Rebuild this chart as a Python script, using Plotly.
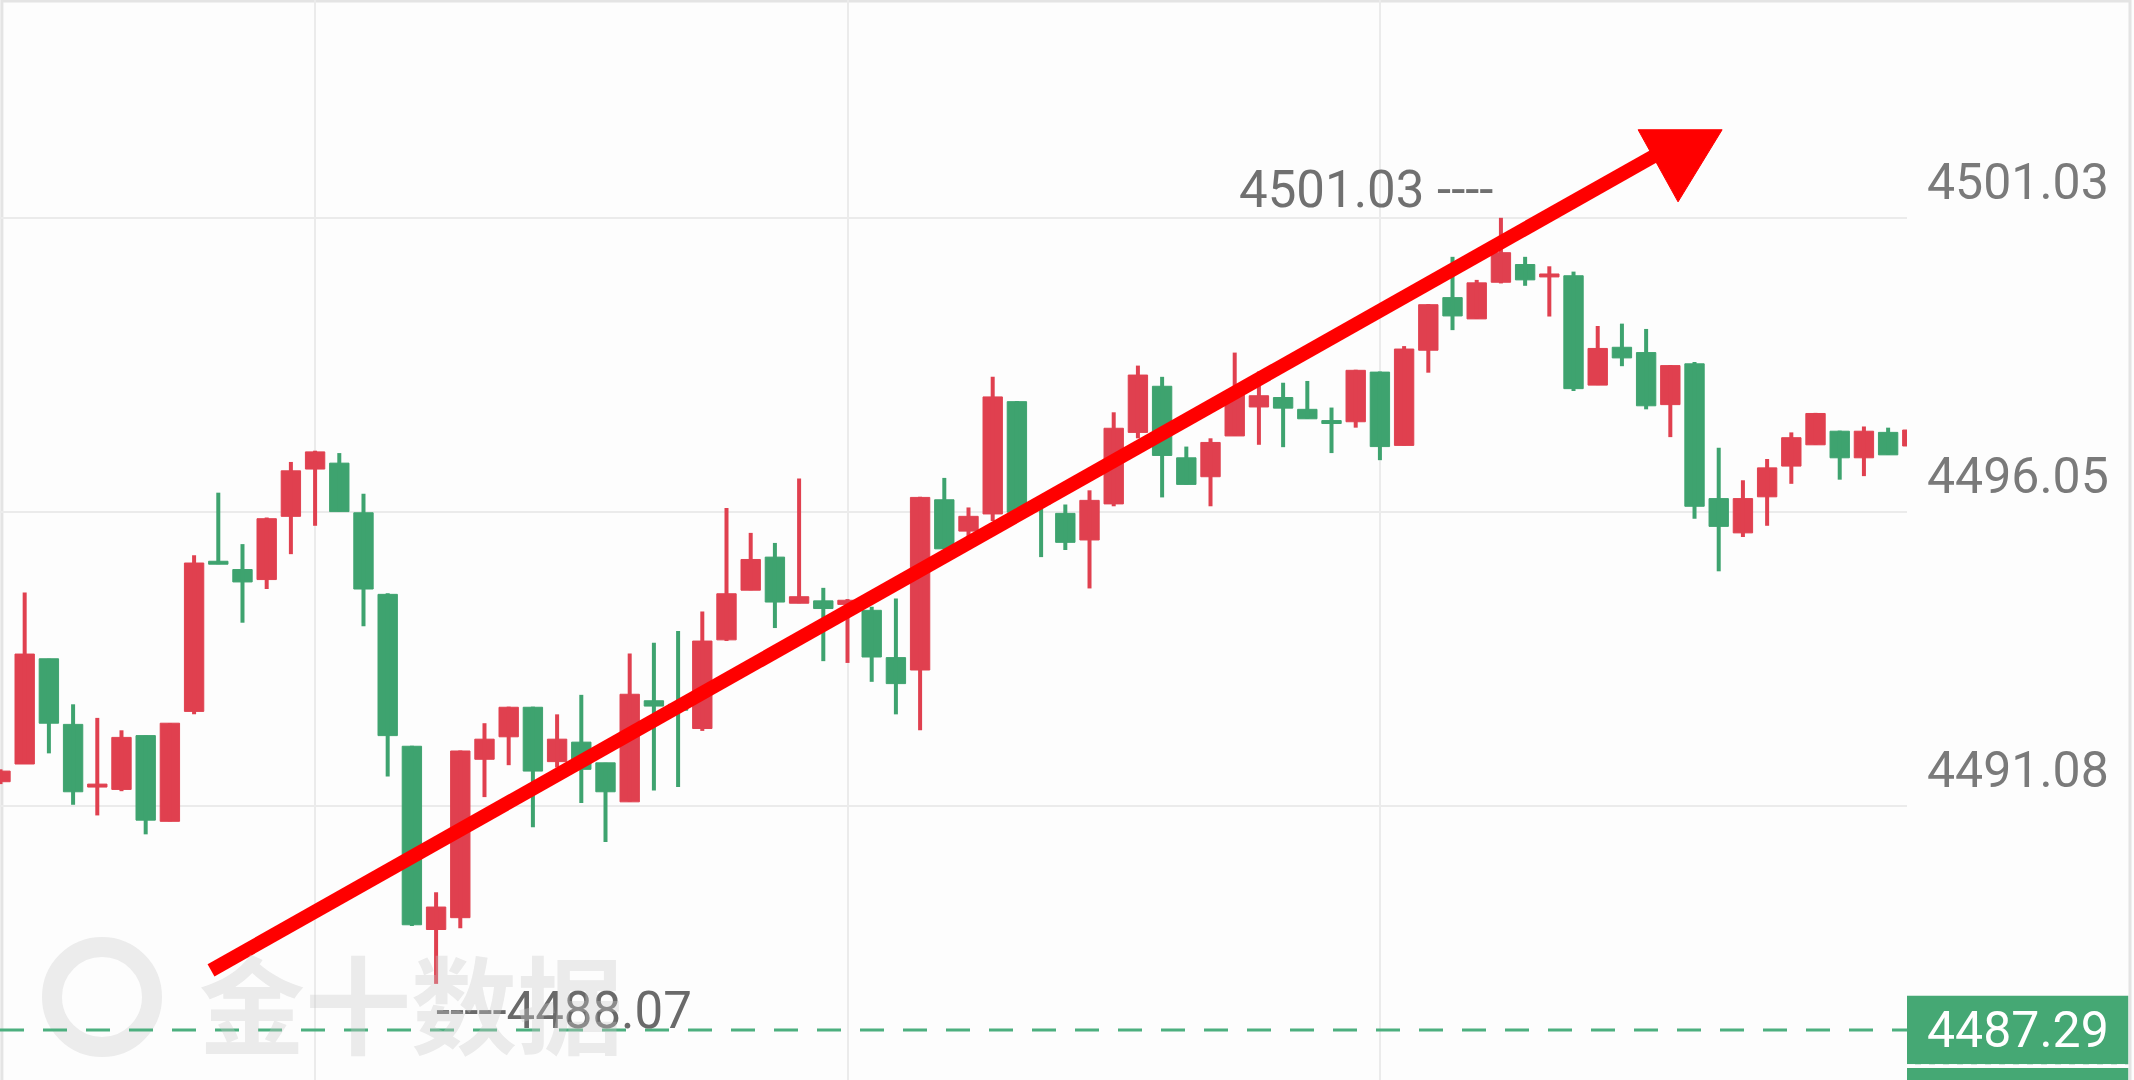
import plotly.graph_objects as go

# candle data (1-min bars), red = up, green = down
opens = [4491.49, 4491.79, 4493.57, 4492.46, 4491.40, 4491.36, 4492.27, 4490.82, 4492.68, 4495.22,
         4495.08, 4494.91, 4495.98, 4496.78, 4496.88, 4496.04, 4494.66, 4492.09, 4488.99, 4489.19,
         4491.87, 4492.25, 4492.75, 4491.83, 4492.16, 4491.81, 4491.15, 4492.86, 4492.80, 4492.39,
         4493.89, 4494.73, 4495.29, 4494.51, 4494.55, 4494.49, 4494.39, 4493.59, 4493.38, 4496.26,
         4495.73, 4496.02, 4497.92, 4496.25, 4496.03, 4495.58, 4496.19, 4497.40, 4498.18, 4496.97,
         4496.65, 4497.34, 4497.83, 4497.99, 4497.79, 4497.59, 4497.58, 4498.42, 4497.18, 4498.79,
         4499.68, 4499.32, 4499.94, 4500.24, 4500.03, 4500.05, 4498.20, 4498.84, 4498.75, 4497.87,
         4498.56, 4496.28, 4495.70, 4496.31, 4496.83, 4497.19, 4497.42, 4496.97, 4497.40, 4497.17]
highs = [4491.70, 4494.69, 4493.57, 4492.80, 4492.57, 4492.36, 4492.27, 4492.48, 4495.32, 4496.38,
         4495.51, 4495.96, 4496.90, 4497.09, 4497.05, 4496.36, 4494.68, 4492.10, 4489.62, 4492.02,
         4492.48, 4492.76, 4492.76, 4492.63, 4492.96, 4491.81, 4493.66, 4493.84, 4494.04, 4494.37,
         4496.12, 4495.70, 4495.53, 4496.62, 4494.77, 4494.58, 4494.45, 4494.59, 4496.31, 4496.63,
         4496.13, 4498.34, 4497.93, 4496.26, 4496.18, 4496.42, 4497.74, 4498.53, 4498.34, 4497.16,
         4497.30, 4498.75, 4498.43, 4498.24, 4498.27, 4497.82, 4498.46, 4498.43, 4498.86, 4499.57,
         4500.37, 4499.98, 4501.03, 4500.37, 4500.21, 4500.12, 4499.20, 4499.24, 4499.15, 4498.54,
         4498.59, 4497.14, 4496.59, 4496.95, 4497.40, 4497.73, 4497.43, 4497.50, 4497.48, 4497.44]
lows = [4491.45, 4491.79, 4491.97, 4491.10, 4490.92, 4491.33, 4490.60, 4490.82, 4492.63, 4495.17,
        4494.18, 4494.75, 4495.34, 4495.82, 4496.06, 4494.12, 4491.58, 4489.05, 4488.07, 4489.01,
        4491.23, 4491.77, 4490.72, 4491.73, 4491.13, 4490.47, 4491.15, 4491.34, 4491.40, 4492.35,
        4493.87, 4494.73, 4494.09, 4494.51, 4493.53, 4493.50, 4493.18, 4492.63, 4492.36, 4495.43,
        4495.57, 4495.90, 4496.05, 4495.29, 4495.41, 4494.76, 4496.15, 4497.30, 4496.30, 4496.52,
        4496.15, 4497.34, 4497.19, 4497.15, 4497.63, 4497.05, 4497.48, 4496.93, 4497.18, 4498.41,
        4499.13, 4499.32, 4499.92, 4499.88, 4499.36, 4498.10, 4498.20, 4498.52, 4497.79, 4497.32,
        4495.94, 4495.05, 4495.63, 4495.82, 4496.53, 4497.19, 4496.60, 4496.66, 4497.02, 4497.17]
closes = [4491.67, 4493.65, 4492.48, 4491.32, 4491.45, 4492.24, 4490.84, 4492.48, 4495.19, 4495.17,
          4494.87, 4495.94, 4496.75, 4497.07, 4496.06, 4494.75, 4492.27, 4489.07, 4489.37, 4492.01,
          4492.21, 4492.75, 4491.67, 4492.21, 4491.70, 4491.32, 4492.97, 4492.77, 4492.70, 4493.87,
          4494.67, 4495.25, 4494.53, 4494.62, 4494.42, 4494.56, 4493.60, 4493.15, 4496.30, 4495.43,
          4495.98, 4498.00, 4496.05, 4496.19, 4495.54, 4496.25, 4497.47, 4498.37, 4497.01, 4496.52,
          4497.23, 4498.05, 4498.02, 4497.81, 4497.63, 4497.55, 4498.45, 4497.16, 4498.81, 4499.56,
          4499.37, 4499.93, 4500.44, 4499.98, 4500.06, 4498.14, 4498.82, 4498.66, 4497.85, 4498.53,
          4496.15, 4495.81, 4496.28, 4496.80, 4497.31, 4497.72, 4496.97, 4497.42, 4497.02, 4497.44]

axis_prices = [4501.03, 4496.05, 4491.08]
axis_labels = ["4501.03", "4496.05", "4491.08"]
grid_x = [13, 35, 57]
last_price = 4487.29
max_label = "4501.03 ----"
min_label = "-----4488.07"

# hand-drawn trend arrow (candle index, price)
arrow_start = (8.7, 4488.30)
arrow_end = (69.3, 4502.30)
arrow_head = [(67.67, 4502.52), (71.14, 4502.52), (69.32, 4501.30)]

RED = "#e0404f"
GREEN = "#3ea36f"
LABEL_FONT = "Roboto, sans-serif"

idx = list(range(len(opens)))
up = [c >= o for o, c in zip(opens, closes)]

fig = go.Figure()

# wicks
for is_up, color in [(True, RED), (False, GREEN)]:
    wx, wy = [], []
    for i in idx:
        if up[i] == is_up:
            wx += [i, i, None]
            wy += [lows[i], highs[i], None]
    fig.add_trace(go.Scatter(x=wx, y=wy, mode="lines", line=dict(color=color, width=4),
                             hoverinfo="skip", showlegend=False))

# bodies
for is_up, color in [(True, RED), (False, GREEN)]:
    bx = [i for i in idx if up[i] == is_up]
    base = [min(opens[i], closes[i]) for i in bx]
    height = [max(abs(closes[i] - opens[i]), 0.05) for i in bx]
    fig.add_trace(go.Bar(x=bx, y=height, base=base, width=0.8,
                         marker=dict(color=color, line=dict(color=color, width=1)),
                         showlegend=False))

# current price line and its tag
fig.add_shape(type="line", xref="paper", x0=0, x1=1, yref="y", y0=last_price, y1=last_price,
              line=dict(color="#4caf7f", width=3, dash="24px,19px"))
fig.add_shape(type="rect", xref="paper", x0=1.0, x1=1.116, yref="y",
              y0=last_price - 0.58, y1=last_price + 0.58,
              fillcolor="#45a874", line=dict(width=0))
fig.add_shape(type="rect", xref="paper", x0=1.0, x1=1.116, yref="paper", y0=-0.05, y1=0.011,
              fillcolor="#45a874", line=dict(width=0))
fig.add_shape(type="line", xref="paper", x0=1.0, x1=1.116, yref="paper", y0=0.014, y1=0.014,
              line=dict(color="rgba(255,255,255,0.8)", width=2, dash="8px,6px"))
fig.add_annotation(xref="paper", x=1.058, yref="y", y=last_price, text=f"{last_price:.2f}",
                   showarrow=False, xanchor="center", yanchor="middle",
                   font=dict(family=LABEL_FONT, size=50, color="white"))

# right side price labels (sit above their grid lines)
for p, t in zip(axis_prices, axis_labels):
    fig.add_annotation(xref="paper", x=1.058, yref="y", y=p, text=t, showarrow=False,
                       xanchor="center", yanchor="middle", yshift=36,
                       font=dict(family=LABEL_FONT, size=50, color="#7a7a7a"))

# high / low markers
hi_i = highs.index(max(highs))
lo_i = lows.index(min(lows))
fig.add_annotation(x=hi_i, y=highs[hi_i], text=max_label, showarrow=False, xanchor="right",
                   yanchor="middle", xshift=-6, yshift=28,
                   font=dict(family=LABEL_FONT, size=51, color="#707070"))
fig.add_annotation(x=lo_i, y=lows[lo_i], text=min_label, showarrow=False, xanchor="left",
                   yanchor="middle", xshift=-2, yshift=-27,
                   font=dict(family=LABEL_FONT, size=51, color="#6a6a6a"))

# watermark
fig.add_shape(type="circle", xref="paper", yref="paper", layer="below",
              x0=52 / 1907, x1=152 / 1907, y0=1 - 1047 / 1080, y1=1 - 947 / 1080,
              line=dict(color="#ececec", width=20))
fig.add_annotation(xref="paper", yref="paper", x=411 / 1907, y=1 - 1000 / 1080,
                   text="<b>金十数据</b>", showarrow=False, xanchor="center", yanchor="middle",
                   font=dict(family="Noto Sans CJK SC", size=106, color="rgba(200,200,200,0.35)"))

# trend arrow
fig.add_shape(type="line", x0=arrow_start[0], y0=arrow_start[1], x1=arrow_end[0], y1=arrow_end[1],
              line=dict(color="#ff0000", width=14))
fig.add_shape(type="path", fillcolor="#ff0000", line=dict(color="#ff0000", width=1),
              path="M {} {} L {} {} L {} {} Z".format(*[v for pt in arrow_head for v in pt]))

# frame
fig.add_shape(type="rect", xref="paper", yref="paper", x0=0.001, x1=2130 / 1907, y0=-0.01, y1=0.999,
              line=dict(color="#e4e4e4", width=3), layer="below")

fig.update_layout(
    width=2134, height=1080,
    margin=dict(l=0, r=227, t=0, b=0),
    paper_bgcolor="#fdfdfd", plot_bgcolor="#fdfdfd",
    barmode="overlay", showlegend=False,
    xaxis=dict(range=[-0.02, 78.78], tickvals=grid_x, showticklabels=False, showgrid=True,
               gridcolor="#ebebeb", gridwidth=2, zeroline=False, showline=False, ticks=""),
    yaxis=dict(range=[4486.444, 4504.715], tickvals=axis_prices, showticklabels=False,
               showgrid=True, gridcolor="#ebebeb", gridwidth=2, zeroline=False, showline=False),
)

fig.write_html("out.html", config={"displayModeBar": False},
               post_script="document.body.style.margin='0';document.body.style.overflow='hidden';")
